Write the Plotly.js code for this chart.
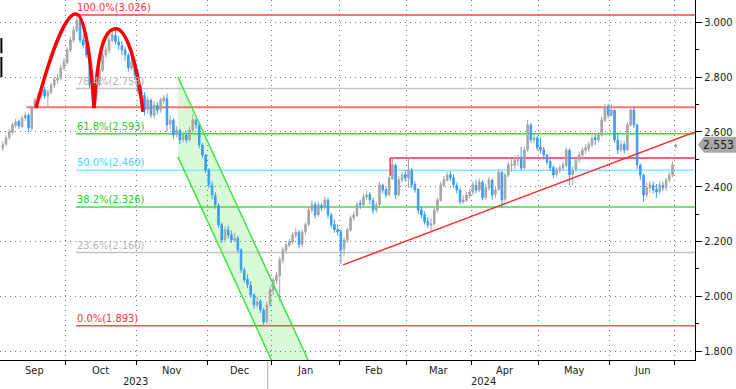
<!DOCTYPE html>
<html><head><meta charset="utf-8">
<script src="https://cdn.plot.ly/plotly-3.0.1.min.js"></script>
<style>html,body{margin:0;padding:0;background:#fff;}#chart{width:736px;height:389px;}</style>
</head><body><div id="chart"></div>
<script>
// ---- data: daily OHLC, one candle per trading day (Aug 31 2023 .. Jul 1 2024)
const openP = [
2.540,2.555,2.580,2.598,2.624,2.638,2.620,2.650,2.660,2.612,
2.690,2.715,2.733,2.755,2.730,2.745,2.770,2.788,2.795,2.832,
2.852,2.898,2.934,2.970,3.005,2.935,2.915,2.880,2.770,2.718,
2.772,2.825,2.880,2.898,2.933,2.952,2.928,2.915,2.898,2.880,
2.832,2.853,2.806,2.752,2.733,2.682,2.715,2.660,2.696,2.682,
2.712,2.722,2.628,2.642,2.590,2.605,2.572,2.588,2.572,2.606,
2.642,2.625,2.552,2.515,2.460,2.405,2.368,2.332,2.262,2.208,
2.242,2.225,2.205,2.212,2.170,2.095,2.062,2.040,2.005,1.968,
1.982,1.950,1.908,1.968,2.022,2.058,2.075,2.132,2.168,2.186,
2.198,2.222,2.234,2.190,2.236,2.262,2.315,2.335,2.298,2.332,
2.324,2.350,2.296,2.262,2.244,2.236,2.172,2.205,2.242,2.285,
2.296,2.340,2.333,2.362,2.372,2.350,2.316,2.335,2.405,2.390,
2.372,2.430,2.478,2.372,2.424,2.445,2.430,2.460,2.408,2.390,
2.316,2.298,2.273,2.258,2.264,2.314,2.350,2.405,2.424,2.445,
2.433,2.405,2.388,2.344,2.350,2.368,2.380,2.405,2.388,2.416,
2.360,2.395,2.424,2.372,2.390,2.452,2.355,2.442,2.478,2.478,
2.496,2.505,2.470,2.535,2.625,2.570,2.578,2.545,2.535,2.515,
2.492,2.470,2.445,2.460,2.468,2.478,2.532,2.445,2.462,2.498,
2.515,2.533,2.540,2.552,2.580,2.570,2.588,2.642,2.690,2.660,
2.678,2.570,2.535,2.555,2.535,2.625,2.680,2.625,2.478,2.442,
2.372,2.395,2.405,2.390,2.382,2.405,2.398,2.425,2.442,2.545];
const highP = [
2.565,2.590,2.612,2.634,2.648,2.645,2.660,2.672,2.668,2.695,
2.725,2.745,2.762,2.765,2.755,2.780,2.800,2.812,2.845,2.870,
2.910,2.948,2.985,3.026,3.012,2.955,2.925,2.885,2.780,2.780,
2.835,2.892,2.915,2.945,2.965,2.976,2.950,2.930,2.910,2.888,
2.870,2.862,2.830,2.768,2.745,2.728,2.722,2.712,2.710,2.725,
2.735,2.740,2.660,2.650,2.622,2.612,2.600,2.598,2.618,2.665,
2.650,2.632,2.560,2.520,2.468,2.420,2.380,2.340,2.270,2.255,
2.258,2.240,2.232,2.220,2.175,2.105,2.080,2.055,2.012,2.000,
1.990,1.958,1.980,2.035,2.070,2.090,2.145,2.180,2.200,2.210,
2.235,2.250,2.242,2.245,2.270,2.325,2.350,2.345,2.345,2.340,
2.365,2.360,2.305,2.280,2.262,2.245,2.215,2.250,2.295,2.310,
2.345,2.352,2.375,2.385,2.380,2.360,2.345,2.418,2.412,2.398,
2.440,2.505,2.485,2.438,2.455,2.458,2.505,2.468,2.420,2.395,
2.330,2.310,2.290,2.285,2.325,2.360,2.418,2.440,2.455,2.458,
2.445,2.415,2.395,2.368,2.380,2.392,2.420,2.425,2.430,2.425,
2.410,2.435,2.430,2.400,2.465,2.458,2.452,2.492,2.500,2.510,
2.518,2.545,2.545,2.644,2.632,2.592,2.585,2.580,2.545,2.520,
2.500,2.478,2.470,2.480,2.492,2.545,2.540,2.475,2.510,2.528,
2.545,2.555,2.565,2.590,2.592,2.600,2.655,2.702,2.702,2.702,
2.682,2.600,2.568,2.565,2.635,2.695,2.690,2.630,2.485,2.448,
2.415,2.420,2.418,2.410,2.420,2.418,2.432,2.455,2.492,2.558];
const lowP = [
2.530,2.548,2.572,2.590,2.615,2.610,2.615,2.640,2.598,2.605,
2.680,2.705,2.722,2.720,2.687,2.738,2.760,2.775,2.790,2.825,
2.845,2.890,2.925,2.962,2.925,2.905,2.870,2.760,2.690,2.705,
2.765,2.818,2.870,2.885,2.925,2.920,2.900,2.880,2.860,2.820,
2.826,2.790,2.735,2.720,2.660,2.665,2.650,2.648,2.665,2.670,
2.700,2.600,2.610,2.575,2.580,2.555,2.560,2.560,2.565,2.598,
2.612,2.540,2.505,2.450,2.395,2.355,2.320,2.250,2.195,2.198,
2.212,2.195,2.198,2.160,2.085,2.050,2.030,1.995,1.955,1.960,
1.940,1.893,1.900,1.960,2.005,2.045,1.980,2.120,2.160,2.178,
2.190,2.212,2.175,2.180,2.225,2.255,2.305,2.285,2.290,2.310,
2.315,2.285,2.250,2.232,2.222,2.118,2.150,2.195,2.235,2.275,
2.290,2.318,2.325,2.350,2.335,2.300,2.305,2.330,2.375,2.360,
2.365,2.425,2.355,2.365,2.415,2.420,2.395,2.395,2.378,2.300,
2.285,2.262,2.250,2.235,2.258,2.305,2.345,2.398,2.418,2.420,
2.395,2.375,2.335,2.338,2.345,2.358,2.370,2.375,2.380,2.350,
2.352,2.385,2.352,2.360,2.385,2.323,2.345,2.435,2.455,2.465,
2.475,2.460,2.462,2.528,2.560,2.558,2.532,2.522,2.500,2.478,
2.458,2.432,2.438,2.450,2.460,2.470,2.405,2.405,2.455,2.488,
2.505,2.520,2.528,2.545,2.552,2.560,2.580,2.635,2.650,2.655,
2.560,2.520,2.525,2.520,2.530,2.618,2.615,2.465,2.425,2.345,
2.360,2.378,2.375,2.360,2.372,2.385,2.385,2.415,2.435,2.540];
const closeP = [
2.553,2.578,2.600,2.626,2.636,2.622,2.651,2.662,2.615,2.687,
2.717,2.735,2.753,2.731,2.746,2.771,2.790,2.797,2.833,2.855,
2.899,2.935,2.972,3.008,2.935,2.917,2.881,2.771,2.717,2.771,
2.826,2.881,2.899,2.935,2.954,2.930,2.917,2.899,2.881,2.833,
2.855,2.808,2.753,2.735,2.680,2.717,2.662,2.698,2.680,2.717,
2.724,2.626,2.644,2.589,2.607,2.571,2.589,2.571,2.607,2.644,
2.626,2.553,2.516,2.461,2.407,2.370,2.334,2.261,2.206,2.243,
2.224,2.206,2.213,2.170,2.097,2.060,2.042,2.005,1.969,1.980,
1.951,1.907,1.969,2.024,2.060,2.078,2.133,2.170,2.188,2.199,
2.224,2.235,2.188,2.235,2.261,2.315,2.334,2.297,2.334,2.323,
2.352,2.297,2.261,2.243,2.235,2.170,2.206,2.243,2.286,2.297,
2.334,2.334,2.363,2.370,2.352,2.315,2.334,2.407,2.388,2.370,
2.432,2.480,2.370,2.425,2.443,2.432,2.461,2.407,2.388,2.315,
2.297,2.272,2.261,2.265,2.315,2.352,2.407,2.425,2.443,2.432,
2.407,2.388,2.345,2.352,2.370,2.381,2.407,2.388,2.418,2.359,
2.396,2.425,2.370,2.388,2.454,2.352,2.443,2.480,2.480,2.498,
2.505,2.468,2.534,2.626,2.571,2.578,2.542,2.534,2.516,2.490,
2.469,2.443,2.461,2.469,2.480,2.534,2.443,2.461,2.498,2.516,
2.534,2.542,2.553,2.578,2.571,2.589,2.644,2.687,2.662,2.680,
2.571,2.534,2.553,2.534,2.626,2.680,2.626,2.480,2.443,2.370,
2.396,2.407,2.388,2.381,2.407,2.396,2.425,2.443,2.480,2.553];

const firstIndex = -1;                         // trading-day index of the first candle
const monthNames = ['Sep','Oct','Nov','Dec','Jan','Feb','Mar','Apr','May','Jun'];
const monthStarts = [0,19,41,63,83,104,125,145,166,188,208]; // first trading-day index of each month (+ Jul)
const yearNames = ['2023','2024'];
const yearStartMonth = [0,4];                   // index into monthNames where each year starts
const fibPct = ['100.0%','76.4%','61.8%','50.0%','38.2%','23.6%','0.0%'];
const fibLevels = [3.026,2.758,2.593,2.460,2.326,2.160,1.893];
const lastPrice = 2.553;
const yTicks = [1.8,2.0,2.2,2.4,2.6,2.8,3.0];

// ---- chart drawing objects (annotations the analyst drew)
const xMin = -1.863, xMax = 213.98;
const yMin = 1.768, yMax = 3.081;
const fibStart = 21.74;
const fibLineColors = ['#ff4545','#c4c4c4','#2ee62e','#7eeeff','#3ee03e','#c4c4c4','#ff5050'];
const fibTextColors = ['#ff3030','#b4b4b4','#20d020','#40d8f8','#20d020','#b4b4b4','#ff3030'];
const necklineLevel = 2.690, necklineStart = 6.4;
const resistLevel = 2.505, resistStart = 119.3, resistDrop = 2.44;
const trendStart = [104.7, 2.115], trendEnd = [xMax, 2.600];
const channelTop = [53.4, 2.800], channelBottom = [53.4, 2.509], channelSlope = -0.02553;

const FONT = 'DejaVu Sans Condensed, Liberation Sans Narrow, DejaVu Sans, sans-serif';

const xIdx = closeP.map((_, i) => i + firstIndex);
const boundaries = monthStarts.slice(1).map(s => s - 0.5);
const edges = [monthStarts[0] - 0.5].concat(boundaries);

const trace = {
  type: 'candlestick', x: xIdx, open: openP, high: highP, low: lowP, close: closeP,
  increasing: {line: {color: '#a6a6a6', width: 1}, fillcolor: '#a6a6a6'},
  decreasing: {line: {color: '#3a9cff', width: 1}, fillcolor: '#3a9cff'},
  whiskerwidth: 0, hoverinfo: 'skip', showlegend: false
};

const shapes = [];
// channel
const chEndTop = channelTop[0] + (yMin - channelTop[1]) / channelSlope;
const chEndBot = channelBottom[0] + (yMin - channelBottom[1]) / channelSlope;
shapes.push({type: 'path', layer: 'below', xref: 'x', yref: 'y',
  path: `M ${channelTop[0]},${channelTop[1]} L ${chEndTop},${yMin} L ${chEndBot},${yMin} L ${channelBottom[0]},${channelBottom[1]} Z`,
  fillcolor: 'rgba(60,230,60,0.2)', line: {width: 0}});
shapes.push({type: 'line', xref: 'x', yref: 'y', x0: channelTop[0], y0: channelTop[1], x1: chEndTop, y1: yMin, line: {color: '#3ce63c', width: 1.5}});
shapes.push({type: 'line', xref: 'x', yref: 'y', x0: channelBottom[0], y0: channelBottom[1], x1: chEndBot, y1: yMin, line: {color: '#3ce63c', width: 1.5}});
// fib lines
fibLevels.forEach((lv, k) => {
  shapes.push({type: 'line', layer: 'below', xref: 'x', yref: 'y', x0: fibStart, x1: xMax, y0: lv, y1: lv,
    line: {color: fibLineColors[k], width: 1.5}});
});
// neckline
shapes.push({type: 'line', layer: 'below', xref: 'x', yref: 'y', x0: necklineStart, x1: xMax, y0: necklineLevel, y1: necklineLevel, line: {color: '#ff7070', width: 2}});
// resistance
shapes.push({type: 'line', layer: 'below', xref: 'x', yref: 'y', x0: resistStart, x1: xMax, y0: resistLevel, y1: resistLevel, line: {color: '#ff2a48', width: 1.5}});
shapes.push({type: 'line', layer: 'below', xref: 'x', yref: 'y', x0: resistStart, x1: resistStart, y0: resistLevel, y1: resistDrop, line: {color: '#ff2a48', width: 1.5}});
// trendline
shapes.push({type: 'line', xref: 'x', yref: 'y', x0: trendStart[0], y0: trendStart[1], x1: trendEnd[0], y1: trendEnd[1], line: {color: '#ff3030', width: 1.5}});
// double top arcs
shapes.push({type: 'path', xref: 'x', yref: 'y',
  path: 'M 9.32,2.687 C 14.91,2.935 19.25,3.034 21.74,3.030 C 24.22,3.030 26.40,2.881 27.33,2.687',
  line: {color: '#ff0000', width: 3.5}});
shapes.push({type: 'path', xref: 'x', yref: 'y',
  path: 'M 27.33,2.687 C 28.57,2.899 30.43,2.976 34.16,2.976 C 36.96,2.976 40.37,2.881 42.55,2.673',
  line: {color: '#ff0000', width: 3.5}});
// last price tag
const pxW = 695, tagH = 8 / 274.2;
shapes.push({type: 'path', xref: 'paper', yref: 'y',
  path: `M ${1 + 3/pxW},${lastPrice} L ${1 + 9/pxW},${lastPrice + tagH} L ${1 + 42/pxW},${lastPrice + tagH} L ${1 + 42/pxW},${lastPrice - tagH} L ${1 + 9/pxW},${lastPrice - tagH} Z`,
  fillcolor: '#a8a8a8', line: {width: 0}});
// year separator
shapes.push({type: 'line', xref: 'x', yref: 'paper', x0: boundaries[3] - 1.2, x1: boundaries[3] - 1.2, y0: -0.006, y1: -0.085, line: {color: '#aaaaaa', width: 1}});
// left-edge marks
shapes.push({type: 'line', xref: 'paper', yref: 'y', x0: 0.002, x1: 0.002, y0: 2.942, y1: 2.887, line: {color: '#000', width: 2}});
shapes.push({type: 'line', xref: 'paper', yref: 'y', x0: 0.002, x1: 0.002, y0: 2.873, y1: 2.800, line: {color: '#000', width: 2}});

const annotations = [];
fibLevels.forEach((lv, k) => {
  annotations.push({xref: 'x', yref: 'y', x: fibStart, y: lv, xanchor: 'left', yanchor: 'bottom', showarrow: false,
    text: `${fibPct[k]}(${lv.toFixed(3)})`, font: {family: FONT, size: 11, color: fibTextColors[k]}, borderpad: 0, yshift: 0});
});
monthNames.forEach((m, k) => {
  annotations.push({xref: 'x', yref: 'paper', x: (edges[k] + edges[k + 1]) / 2, y: 0, yanchor: 'top', yshift: -2,
    showarrow: false, text: m, font: {family: FONT, size: 11, color: '#222'}});
});
yearNames.forEach((yname, k) => {
  const a = k === 0 ? xMin : edges[yearStartMonth[k]];
  const b = k + 1 < yearNames.length ? edges[yearStartMonth[k + 1]] : xMax;
  annotations.push({xref: 'x', yref: 'paper', x: (a + b) / 2, y: 0, yanchor: 'top', yshift: -14, borderpad: 0,
    showarrow: false, text: yname, font: {family: FONT, size: 11, color: '#222'}});
});
annotations.push({xref: 'paper', yref: 'y', x: 1 + 23/pxW, y: lastPrice, xanchor: 'center', yanchor: 'middle',
  showarrow: false, text: lastPrice.toFixed(3), font: {family: FONT, size: 12, color: '#1a1a1a'}});

const layout = {
  width: 736, height: 389,
  margin: {l: 0, r: 41, t: 0, b: 29, pad: 0},
  paper_bgcolor: '#ffffff', plot_bgcolor: '#ffffff',
  showlegend: false, dragmode: false,
  xaxis: {type: 'linear', range: [xMin, xMax], tickmode: 'array', tickvals: boundaries, ticktext: boundaries.map(() => ''),
    ticks: 'outside', ticklen: 4, tickcolor: '#000', showline: true, linecolor: '#000', linewidth: 1,
    showgrid: true, gridcolor: '#7a7a7a', griddash: '1px,4px', gridwidth: 1, zeroline: false,
    rangeslider: {visible: false}, fixedrange: true},
  yaxis: {side: 'right', range: [yMin, yMax], tickmode: 'array', tickvals: yTicks, ticktext: yTicks.map(v => v.toFixed(3)),
    ticks: 'outside', ticklen: 6, tickwidth: 1, tickcolor: '#000', showline: true, linecolor: '#000', linewidth: 1,
    showgrid: true, gridcolor: '#7a7a7a', griddash: '1px,4px', gridwidth: 1, zeroline: false,
    minor: {tickmode: 'linear', tick0: 1.8, dtick: 0.1, ticklen: 3, tickcolor: '#000', showgrid: false},
    tickfont: {family: FONT, size: 11, color: '#1a1a1a'}, fixedrange: true},
  shapes: shapes, annotations: annotations
};

Plotly.newPlot('chart', [trace], layout, {displayModeBar: false, staticPlot: true});
</script></body></html>
